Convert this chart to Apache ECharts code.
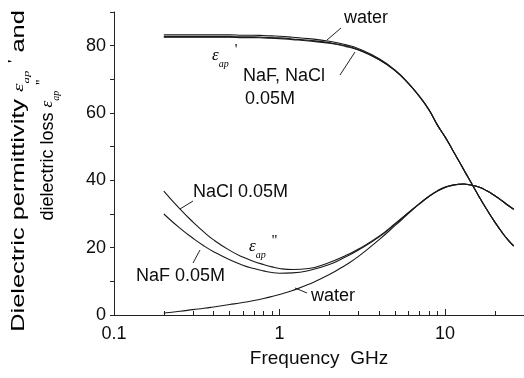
<!DOCTYPE html>
<html><head><meta charset="utf-8">
<script src="https://cdn.jsdelivr.net/npm/echarts@6/dist/echarts.min.js"></script>
<style>html,body{margin:0;padding:0;background:#fff}#c{width:524px;height:378px}</style>
</head><body><div id="c"></div>
<script>
// Frequency (GHz)
const freqGHz = [0.2,0.25,0.3,0.35,0.4,0.5,0.6,0.7,0.8,0.9,1,1.2,1.5,2,2.5,3,4,5,6,7,8,9,10,11,12,13,14,16,18,20,22,24,26];
// Dielectric permittivity eps'
const waterEps1 = [83.2,83.2,83.2,83.2,83.2,83.2,83.1,83.1,83.0,82.9,82.8,82.5,82.1,81.3,80.3,79.1,76.1,72.7,68.9,65.0,61.0,56.4,52.9,49.4,46.1,43.1,40.3,35.3,31.1,27.6,24.7,22.3,20.5];
const naclEps1  = [82.5,82.5,82.5,82.5,82.5,82.5,82.4,82.4,82.3,82.2,82.1,81.8,81.4,80.7,79.8,78.7,75.8,72.5,68.8,64.9,60.9,56.4,52.9,49.4,46.1,43.1,40.3,35.3,31.1,27.6,24.7,22.3,20.5];
const nafEps1   = [82.7,82.7,82.7,82.7,82.7,82.7,82.6,82.6,82.5,82.4,82.3,82.0,81.6,80.9,80.0,78.8,75.9,72.6,68.8,64.9,60.9,56.4,52.9,49.4,46.1,43.1,40.3,35.3,31.1,27.6,24.7,22.3,20.5];
// Dielectric loss eps''
const waterEps2 = [0.6,1.1,1.6,2.0,2.4,3.1,3.7,4.3,4.9,5.5,6.1,7.3,9.1,12.0,14.8,17.4,22.4,26.6,30.1,33.0,35.2,36.8,37.9,38.5,38.8,38.9,38.7,38.0,36.8,35.4,34.0,32.6,31.4];
const naclEps2  = [36.8,31.5,27.6,24.6,22.3,19.2,17.2,15.9,15.0,14.3,13.8,13.5,13.8,15.6,17.6,19.6,23.4,27.2,30.4,33.1,35.3,36.9,38.0,38.5,38.8,38.9,38.7,38.0,36.8,35.4,34.0,32.6,31.4];
const nafEps2   = [30.0,25.8,22.8,20.5,18.8,16.4,14.8,13.8,13.1,12.6,12.4,12.5,13.2,15.0,17.2,19.3,23.2,27.0,30.3,33.0,35.2,36.8,37.9,38.5,38.8,38.9,38.7,38.0,36.8,35.4,34.0,32.6,31.4];
// Axis ticks
const xMajorTicks = [0.1, 1, 10];
const xMinorTicks = [0.2,0.3,0.4,0.5,0.6,0.7,0.8,0.9,2,3,4,5,6,7,8,9,20,30];
const yTickLabels = [0, 20, 40, 60, 80];

const INK = '#0d0d0d';
const FONT = 'Liberation Sans, Arial, Helvetica, sans-serif';
const pair = arr => freqGHz.map((f, i) => [f, arr[i]]);
const mkLine = (name, arr) => ({
  name, type: 'line', xAxisIndex: 0, data: pair(arr), showSymbol: false, symbol: 'none',
  smooth: true, lineStyle: { color: '#1a1a1a', width: 1.1 }, silent: true
});

const epsRich = {
  e: { fontFamily: 'Liberation Serif, DejaVu Serif, serif', fontStyle: 'italic', fontSize: 17, color: INK, lineHeight: 26 },
  s: { fontFamily: 'Liberation Serif, DejaVu Serif, serif', fontStyle: 'italic', fontSize: 10, color: INK, verticalAlign: 'bottom', lineHeight: 26 },
  p: { fontFamily: 'Liberation Serif, serif', fontSize: 15, color: INK, verticalAlign: 'top', lineHeight: 26, padding: [0, 0, 0, 6] }
};

const chart = echarts.init(document.getElementById('c'), null, { renderer: 'canvas' });
const xBase = {
  type: 'log', logBase: 10, min: 0.1, max: 30, gridIndex: 0, position: 'bottom',
  splitLine: { show: false }, minorTick: { show: false }
};
chart.setOption({
  animation: false,
  backgroundColor: '#fff',
  grid: { left: 114, right: 0, top: 12, bottom: 63 },
  xAxis: [
    Object.assign({}, xBase, {
      axisLine: { show: true, lineStyle: { color: '#222', width: 1 } },
      axisTick: { show: true, inside: true, length: 6, customValues: xMajorTicks, lineStyle: { color: '#222' } },
      axisLabel: { customValues: xMajorTicks, formatter: v => String(parseFloat(Number(v).toPrecision(3))),
        fontSize: 18, fontFamily: FONT, color: INK, margin: 10 },
      name: 'Frequency  GHz', nameLocation: 'middle', nameGap: 34,
      nameTextStyle: { fontSize: 19, fontFamily: FONT, color: INK }
    }),
    Object.assign({}, xBase, {
      axisLine: { show: false },
      axisTick: { show: true, inside: true, length: 4, customValues: xMinorTicks, lineStyle: { color: '#222' } },
      axisLabel: { show: false }
    })
  ],
  yAxis: {
    type: 'value', min: 0, max: 90, interval: 10,
    axisLine: { show: true, lineStyle: { color: '#222', width: 1 } },
    axisTick: { show: true, inside: false, length: 4, lineStyle: { color: '#222' } },
    axisLabel: { formatter: v => (yTickLabels.indexOf(v) >= 0 ? String(v) : ''),
      fontSize: 18, fontFamily: FONT, color: INK, margin: 8 },
    splitLine: { show: false }
  },
  series: [
    mkLine('water ε\'', waterEps1), mkLine('NaCl ε\'', naclEps1), mkLine('NaF ε\'', nafEps1),
    mkLine('water ε\'\'', waterEps2), mkLine('NaCl ε\'\'', naclEps2), mkLine('NaF ε\'\'', nafEps2)
  ],
  graphic: [
    // y-axis title, two rotated lines
    { type: 'text', x: 19, y: 171, rotation: Math.PI / 2, scaleX: 1.27, scaleY: 0.92, silent: true,
      style: { text: '{t|Dielectric permittivity }{e|ε}{s|ap}{p|\'}{t| and}', align: 'center', verticalAlign: 'middle',
        rich: Object.assign({ t: { fontSize: 20, fontFamily: FONT, color: INK, lineHeight: 26 } }, epsRich) } },
    { type: 'text', x: 48, y: 150, rotation: Math.PI / 2, silent: true,
      style: { text: '{t|dielectric loss }{e|ε}{s|ap}{p|\'\'}', align: 'center', verticalAlign: 'middle',
        rich: Object.assign({ t: { fontSize: 18, fontFamily: FONT, color: INK, lineHeight: 26 } }, epsRich) } },
    // annotations
    { type: 'text', x: 344, y: 18, silent: true, style: { text: 'water', font: '18px ' + FONT, fill: INK, verticalAlign: 'middle' } },
    { type: 'line', silent: true, shape: { x1: 341, y1: 28, x2: 327, y2: 40 }, style: { stroke: '#222', lineWidth: 1 } },
    { type: 'text', x: 243, y: 76, silent: true, style: { text: 'NaF, NaCl', font: '18px ' + FONT, fill: INK, verticalAlign: 'middle' } },
    { type: 'text', x: 245, y: 99, silent: true, style: { text: '0.05M', font: '18px ' + FONT, fill: INK, verticalAlign: 'middle' } },
    { type: 'line', silent: true, shape: { x1: 340, y1: 75, x2: 355, y2: 52 }, style: { stroke: '#222', lineWidth: 1 } },
    { type: 'text', x: 212, y: 56, silent: true, style: { text: '{e|ε}{s|ap}{p|\'}', verticalAlign: 'middle', rich: epsRich } },
    { type: 'text', x: 193, y: 192, silent: true, style: { text: 'NaCl 0.05M', font: '18px ' + FONT, fill: INK, verticalAlign: 'middle' } },
    { type: 'line', silent: true, shape: { x1: 193, y1: 201, x2: 180, y2: 209 }, style: { stroke: '#222', lineWidth: 1 } },
    { type: 'text', x: 136, y: 276, silent: true, style: { text: 'NaF 0.05M', font: '18px ' + FONT, fill: INK, verticalAlign: 'middle' } },
    { type: 'line', silent: true, shape: { x1: 193, y1: 263, x2: 200, y2: 250 }, style: { stroke: '#222', lineWidth: 1 } },
    { type: 'text', x: 249, y: 247, silent: true, style: { text: '{e|ε}{s|ap}{p|\'\'}', verticalAlign: 'middle', rich: epsRich } },
    { type: 'text', x: 311, y: 296, silent: true, style: { text: 'water', font: '18px ' + FONT, fill: INK, verticalAlign: 'middle' } },
    { type: 'line', silent: true, shape: { x1: 307, y1: 293, x2: 295, y2: 288 }, style: { stroke: '#222', lineWidth: 1 } }
  ]
});
</script></body></html>
